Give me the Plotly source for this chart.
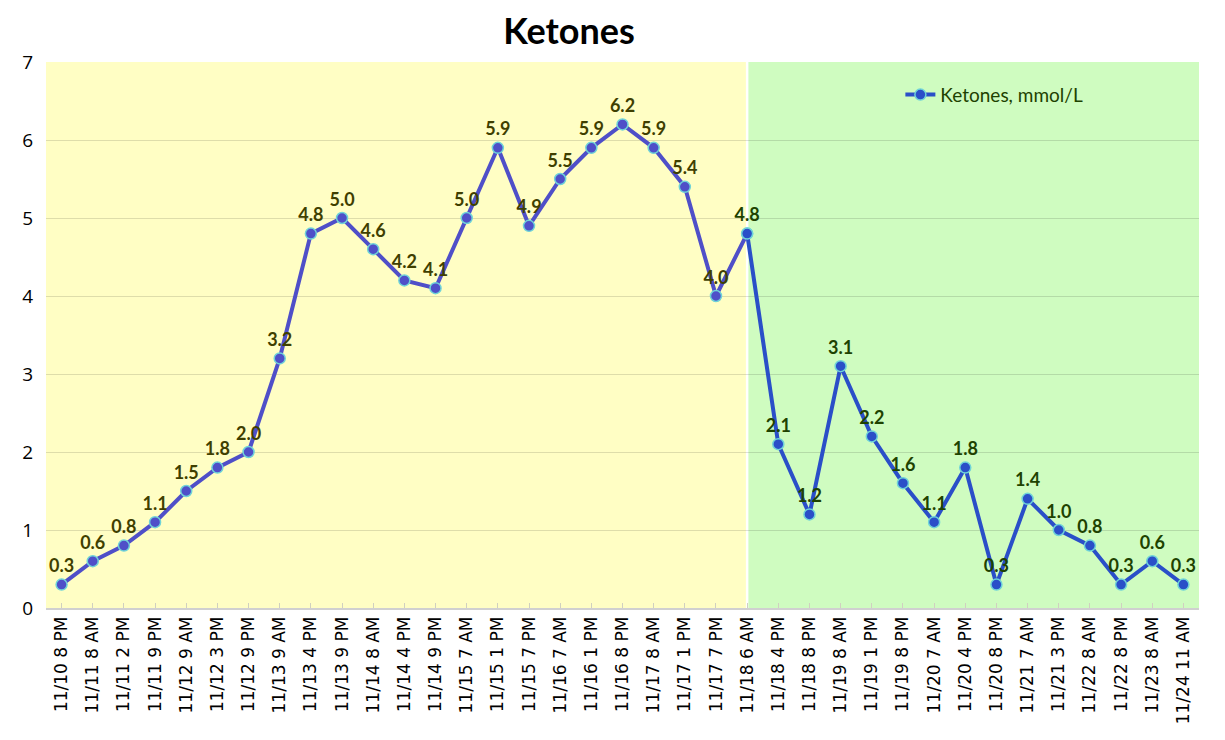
import plotly.graph_objects as go

categories = ["11/10 8 PM", "11/11 8 AM", "11/11 2 PM", "11/11 9 PM", "11/12 9 AM", "11/12 3 PM",
              "11/12 9 PM", "11/13 9 AM", "11/13 4 PM", "11/13 9 PM", "11/14 8 AM", "11/14 4 PM",
              "11/14 9 PM", "11/15 7 AM", "11/15 1 PM", "11/15 7 PM", "11/16 7 AM", "11/16 1 PM",
              "11/16 8 PM", "11/17 8 AM", "11/17 1 PM", "11/17 7 PM", "11/18 6 AM", "11/18 4 PM",
              "11/18 8 PM", "11/19 8 AM", "11/19 1 PM", "11/19 8 PM", "11/20 7 AM", "11/20 4 PM",
              "11/20 8 PM", "11/21 7 AM", "11/21 3 PM", "11/22 8 AM", "11/22 8 PM", "11/23 8 AM",
              "11/24 11 AM"]
ketones = [0.3, 0.6, 0.8, 1.1, 1.5, 1.8, 2.0, 3.2, 4.8, 5.0, 4.6, 4.2, 4.1, 5.0, 5.9, 4.9, 5.5, 5.9,
           6.2, 5.9, 5.4, 4.0, 4.8, 2.1, 1.2, 3.1, 2.2, 1.6, 1.1, 1.8, 0.3, 1.4, 1.0, 0.8, 0.3, 0.6, 0.3]
split_idx = 22  # 11/18 6 AM: start of green phase

xi = list(range(len(categories)))
n = len(categories)

fig = go.Figure()

# background phases
fig.add_shape(type="rect", xref="x", yref="paper", x0=-0.5, x1=split_idx - 0.04, y0=0, y1=1,
              fillcolor="#FFFEC4", line_width=0, layer="below")
fig.add_shape(type="rect", xref="x", yref="paper", x0=split_idx + 0.04, x1=n - 0.5, y0=0, y1=1,
              fillcolor="#CFFCC0", line_width=0, layer="below")

left_x = xi[:split_idx + 1]
left_y = ketones[:split_idx + 1]
right_x = xi[split_idx:]
right_y = ketones[split_idx:]

label_font = "Lato, Open Sans, sans-serif"

fig.add_trace(go.Scatter(
    x=left_x, y=left_y, mode="lines+markers+text", showlegend=False,
    line=dict(color="#4F4FC8", width=4),
    marker=dict(size=11, color="#4F4FC8", line=dict(color="#6FD3D8", width=1.5)),
    text=[f"{v:.1f}" for v in left_y[:-1]] + [""],
    textposition="top center",
    textfont=dict(family=label_font, size=18, color="#3F3F00", weight="bold"),
    cliponaxis=False,
))
fig.add_trace(go.Scatter(
    x=right_x, y=right_y, mode="lines+markers+text", name="Ketones, mmol/L",
    line=dict(color="#2A4FC8", width=4),
    marker=dict(size=11, color="#2A4FC8", line=dict(color="#6FD3D8", width=1.5)),
    text=[f"{v:.1f}" for v in right_y],
    textposition="top center",
    textfont=dict(family=label_font, size=18, color="#1E4200", weight="bold"),
    cliponaxis=False,
))

fig.update_layout(
    width=1217, height=732,
    paper_bgcolor="white", plot_bgcolor="white",
    margin=dict(l=38, r=26, t=54, b=132),
    title=dict(text="<b>Ketones</b>", x=0.461, xanchor="center", y=0.968, yanchor="middle",
               font=dict(family=label_font, size=36, color="black")),
    font=dict(family="DejaVu Sans, sans-serif", color="black"),
    legend=dict(x=0.741, y=0.94, xanchor="left", yanchor="middle", bgcolor="rgba(0,0,0,0)",
                font=dict(family=label_font, size=19, color="#1E4200")),
    showlegend=True,
)
fig.update_xaxes(
    range=[-0.5, n - 0.5], tickmode="array", tickvals=xi, ticktext=categories,
    tickangle=-90, tickfont=dict(size=17, family="DejaVu Sans, sans-serif", color="black"),
    showgrid=False, showline=True, linecolor="#D0D0D0", linewidth=1.5,
    ticks="inside", tickson="boundaries", ticklen=5, tickcolor="#D0D0C0",
    zeroline=False, automargin=False,
)
fig.update_yaxes(
    range=[0, 7], dtick=1, showgrid=True, gridcolor="rgba(0,0,0,0.13)", gridwidth=1,
    tickfont=dict(size=19, family="Open Sans, sans-serif", color="black"),
    zeroline=False, showline=False, ticks="", ticklabelstandoff=12, automargin=False,
)

fig.write_html("out.html")
